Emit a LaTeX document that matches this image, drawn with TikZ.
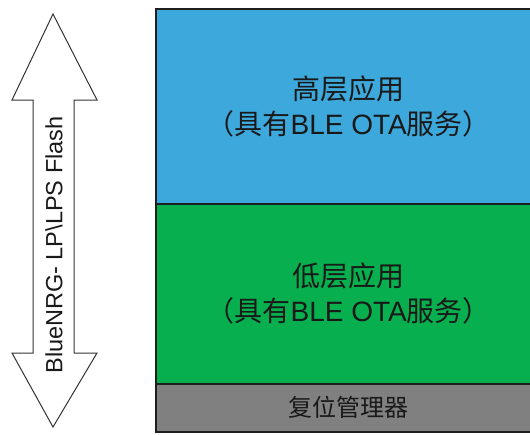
\documentclass[tikz,border=0pt]{standalone}
\usepackage{fontspec}
\setmainfont{Liberation Sans}
\newfontfamily\cjkfont{Noto Sans CJK SC}
\definecolor{layerblue}{RGB}{61,168,220}
\definecolor{layergreen}{RGB}{8,175,78}
\definecolor{layergray}{RGB}{128,128,128}
\definecolor{edgedark}{RGB}{30,30,30}
\newcommand{\otaline}{{\cjkfont （具有}BLE OTA{\cjkfont 服务）}}
\begin{document}
\begin{tikzpicture}[x=1pt,y=-1pt,
  layer/.style={draw=edgedark, line width=1.5pt, anchor=north west, inner sep=0pt,
    minimum width=386pt, align=center, text=black!90,
    font=\fontsize{28}{35}\selectfont},
  flasharrow/.style={draw=black!80, line width=1pt, fill=white, line join=miter}]
\useasboundingbox (0,0) rectangle (530,434);
\begin{scope}
\clip (0,0) rectangle (530,434);
\node[layer, fill=layerblue, minimum height=195pt] (high) at (155,8)
  {{\cjkfont 高层应用}\\\otaline};
\node[layer, fill=layergreen, minimum height=180pt] (low) at (155,203)
  {{\cjkfont 低层应用}\\\otaline};
\node[layer, fill=layergray, minimum height=48pt, font=\cjkfont\fontsize{24}{28}\selectfont] (reset) at (155,383)
  {复位管理器};
\end{scope}
\draw[flasharrow] (53,14) -- (97,100) -- (74,100) -- (74,353) -- (97,353) -- (53,427)
  -- (12,353) -- (33,353) -- (33,100) -- (12,100) -- cycle;
\node[rotate=90, font=\fontsize{23.5}{26}\selectfont, text=black!90] (flash) at (54,245)
  {BlueNRG- LP\textbackslash LPS Flash};
\end{tikzpicture}
\end{document}
